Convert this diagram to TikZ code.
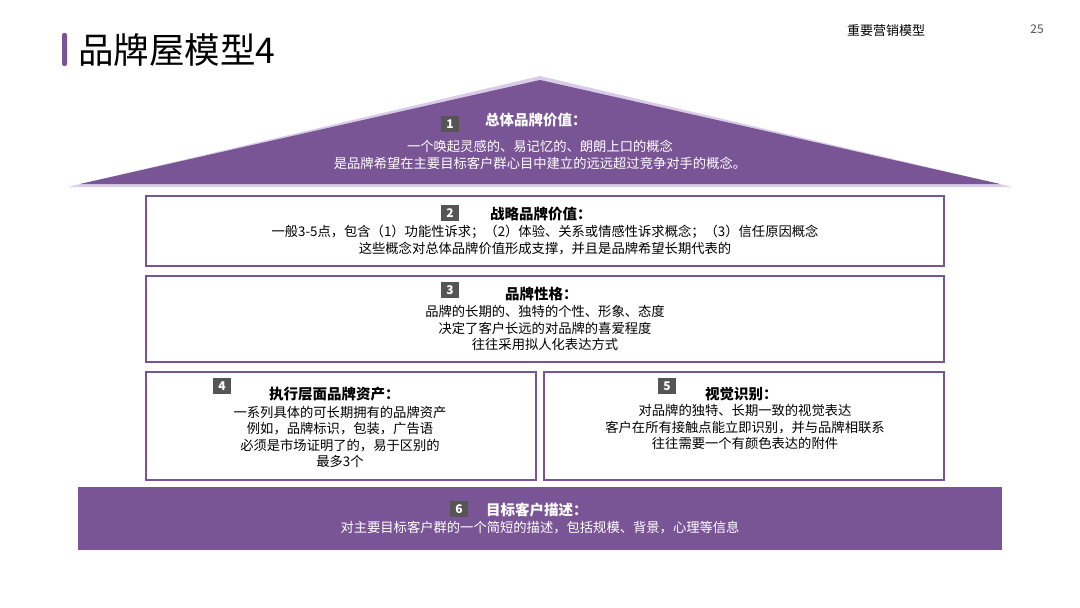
\documentclass[tikz,border=0pt]{standalone}
\usepackage{fontspec}
\setmainfont{Noto Sans CJK SC}
\usetikzlibrary{positioning}
\definecolor{pur}{HTML}{7A5595}
\definecolor{lav}{HTML}{D9CCE8}
\definecolor{badge}{HTML}{555555}
\begin{document}
\begin{tikzpicture}[x=1pt,y=-1pt,
  box/.style={draw=pur,line width=2.5pt,fill=white},
  badgebox/.style={fill=badge,text=white,font=\fontsize{12}{12}\selectfont\bfseries,minimum width=18pt,minimum height=16pt,inner sep=0pt},
  body/.style={align=center,font=\fontsize{13.3}{16.5}\selectfont,inner sep=0pt},
  head/.style={font=\fontsize{14.5}{16}\selectfont\bfseries,inner sep=0pt}]
\useasboundingbox (0,0) rectangle (1080,608);
\fill[white] (0,0) rectangle (1080,608);
% title
\fill[pur,rounded corners=2pt] (62,33) rectangle (67,66);
\node[anchor=west,font=\fontsize{35.5}{36}\selectfont,inner sep=0pt] (title) at (78,50) {品牌屋模型4};
\node[font=\fontsize{13}{13}\selectfont,inner sep=0pt] (sec) at (886,31) {重要营销模型};
\node[font=\fontsize{12}{12}\selectfont\itshape,text=badge,inner sep=0pt] (pg) at (1037,29) {25};
% roof
\fill[lav] (540,76) -- (1012,187) -- (68,187) -- cycle;
\fill[pur] (540,80) -- (1000,184) -- (80,184) -- cycle;
\node[badgebox] (b1) at (450,124) {1};
\node[head,text=white,anchor=west] (h1) at (485,120) {总体品牌价值：};
\node[body,text=white] (t1) at (540,155) {一个唤起灵感的、易记忆的、朗朗上口的概念\\是品牌希望在主要目标客户群心目中建立的远远超过竞争对手的概念。};
% box2
\draw[box] (146,196) rectangle (944,266);
\node[badgebox] (b2) at (450,213) {2};
\node[head,anchor=west] (h2) at (490,214) {战略品牌价值：};
\node[body] (t2) at (545,240) {一般3-5点，包含（1）功能性诉求；（2）体验、关系或情感性诉求概念；（3）信任原因概念\\这些概念对总体品牌价值形成支撑，并且是品牌希望长期代表的};
% box3
\draw[box] (146,276) rectangle (944,362);
\node[badgebox] (b3) at (450,290) {3};
\node[head,anchor=west] (h3) at (505,294) {品牌性格：};
\node[body] (t3) at (545,328) {品牌的长期的、独特的个性、形象、态度\\决定了客户长远的对品牌的喜爱程度\\往往采用拟人化表达方式};
% box4
\draw[box] (146,372) rectangle (536,480);
\node[badgebox] (b4) at (222,386) {4};
\node[head,anchor=west] (h4) at (269,394) {执行层面品牌资产：};
\node[body] (t4) at (340,437) {一系列具体的可长期拥有的品牌资产\\例如，品牌标识，包装，广告语\\必须是市场证明了的，易于区别的\\最多3个};
% box5
\draw[box] (544,372) rectangle (944,480);
\node[badgebox] (b5) at (667,386) {5};
\node[head,anchor=west] (h5) at (705,394) {视觉识别：};
\node[body] (t5) at (745,427) {对品牌的独特、长期一致的视觉表达\\客户在所有接触点能立即识别，并与品牌相联系\\往往需要一个有颜色表达的附件};
% bar 6
\fill[pur] (78,487) rectangle (1002,550);
\node[badgebox] (b6) at (459,509) {6};
\node[head,text=white,anchor=west] (h6) at (486,510) {目标客户描述：};
\node[body,text=white] (t6) at (540,528) {对主要目标客户群的一个简短的描述，包括规模、背景，心理等信息};
\end{tikzpicture}
\end{document}
